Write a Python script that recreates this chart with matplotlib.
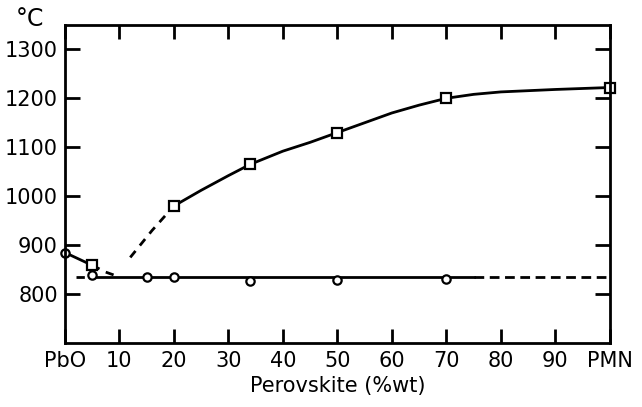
import numpy as np
import matplotlib
matplotlib.use("Agg")
import matplotlib.pyplot as plt

# liquidus / solidus
sq_x = [5, 20, 34, 50, 70, 100]
sq_y = [859, 980, 1065, 1130, 1200, 1220]

circ_x = [0, 5, 15, 20, 34, 50, 70]
circ_y = [885, 839, 835, 835, 826, 828, 830]

upper_x = [20, 25, 30, 34, 40, 45, 50, 55, 60, 65, 70, 75, 80, 90, 100]
upper_y = [980, 1012, 1042, 1065, 1092, 1110, 1130, 1150, 1170, 1186, 1200, 1208, 1213, 1218, 1222]

upper_dash_x = [12, 16, 20]
upper_dash_y = [875, 930, 980]

left_x = [0, 2.5, 5]
left_y = [885, 872, 859]
left_dash_x = [5, 7.5, 10]
left_dash_y = [859, 845, 835]

eut_y = 835
eut_dash1 = [2, 5]
eut_solid = [5, 75]
eut_dash2 = [75, 100]

xticks = [0, 10, 20, 30, 40, 50, 60, 70, 80, 90, 100]
xlabels = ["PbO", "10", "20", "30", "40", "50", "60", "70", "80", "90", "PMN"]
yticks = [800, 900, 1000, 1100, 1200, 1300]

fig = plt.figure(figsize=(6.42, 4.07), dpi=100)
ax = fig.add_axes([0.101, 0.157, 0.849, 0.782])

lw = 2.0
ax.plot(upper_x, upper_y, color="black", lw=lw)
ax.plot(upper_dash_x, upper_dash_y, color="black", lw=lw, ls=(0, (3, 2.5)))
ax.plot(left_x, left_y, color="black", lw=lw)
ax.plot(left_dash_x, left_dash_y, color="black", lw=lw, ls=(0, (3, 2.5)))
ax.plot(eut_dash1, [eut_y, eut_y], color="black", lw=lw, ls=(0, (3, 2)))
ax.plot(eut_solid, [eut_y, eut_y], color="black", lw=lw)
ax.plot(eut_dash2, [eut_y, eut_y], color="black", lw=lw, ls=(0, (3.5, 2)))

ax.plot(sq_x, sq_y, ls="none", marker="s", ms=7, mfc="white", mec="black", mew=1.6, clip_on=False)
ax.plot(circ_x, circ_y, ls="none", marker="o", ms=6, mfc="white", mec="black", mew=1.6, clip_on=False)

ax.set_xlim(0, 100)
ax.set_ylim(700, 1350)
ax.set_xticks(xticks)
ax.set_xticklabels(xlabels)
ax.set_yticks(yticks)
ax.tick_params(direction="in", length=10, width=2, top=True, right=True,
               labelsize=15, pad=6)
ax.tick_params(axis="y", length=11, pad=5)
for s in ax.spines.values():
    s.set_linewidth(2)

ax.set_xlabel("Perovskite (%wt)", fontsize=15, labelpad=3)
fig.text(0.025, 0.925, "°C", fontsize=17, ha="left", va="bottom")

fig.savefig("out.png", dpi=100)
